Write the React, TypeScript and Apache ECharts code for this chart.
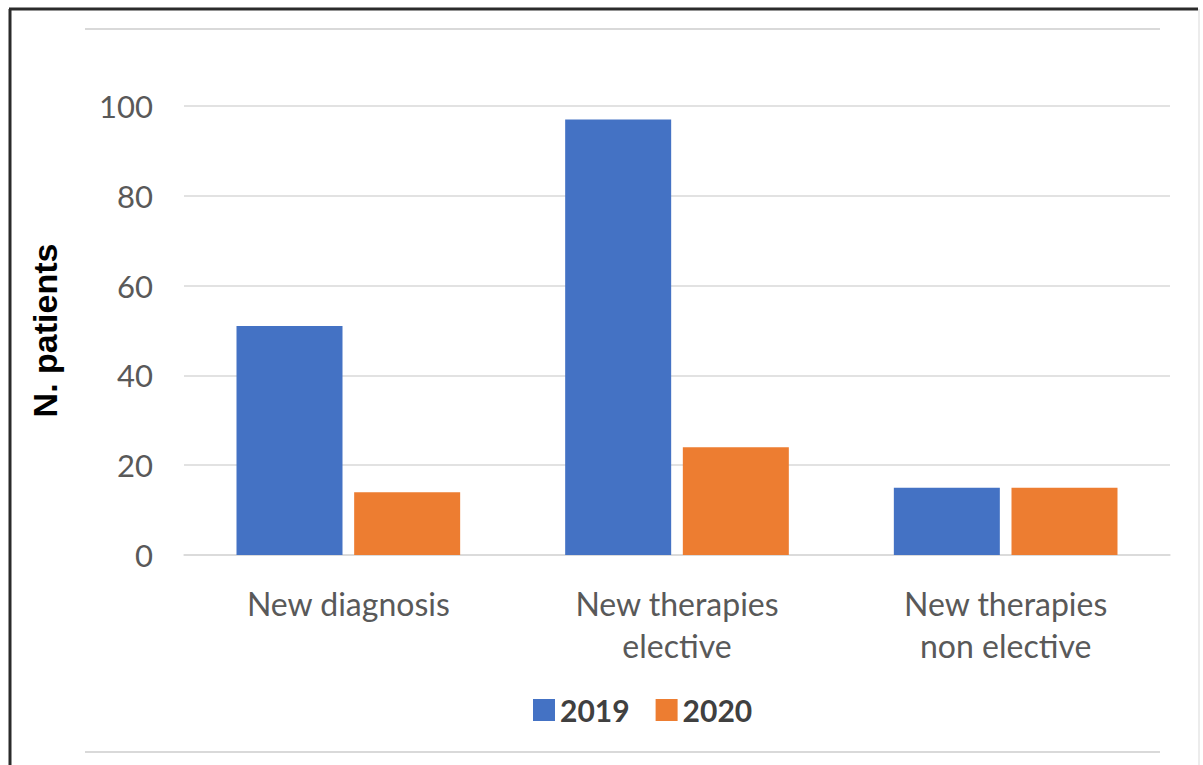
import React, { useEffect, useRef } from "react";
import * as echarts from "echarts";

const categories = ["New diagnosis", "New therapies\nelective", "New therapies\nnon elective"];
const seriesNames = ["2019", "2020"];
const values2019 = [51, 97, 15];
const values2020 = [14, 24, 15];
const yTicks = { min: 0, max: 100, interval: 20 };

export default function App() {
  const ref = useRef<HTMLDivElement>(null);
  useEffect(() => {
    if (!ref.current) return;
    const chart = echarts.init(ref.current, null, { renderer: "svg" });
    const font = "Lato, 'Open Sans', sans-serif";
    chart.setOption({
      animation: false,
      backgroundColor: "#ffffff",
      textStyle: { fontFamily: font },
      graphic: [
        { type: "line", shape: { x1: 10, y1: 9, x2: 10, y2: 765 }, style: { stroke: "#2b2b2b", lineWidth: 3 } },
        { type: "line", shape: { x1: 9, y1: 9, x2: 1198, y2: 9 }, style: { stroke: "#2b2b2b", lineWidth: 3 } },
        { type: "line", shape: { x1: 1199, y1: 9, x2: 1199, y2: 765 }, style: { stroke: "#e6e6e6", lineWidth: 1.5 } },
        { type: "line", shape: { x1: 85, y1: 29, x2: 1160, y2: 29 }, style: { stroke: "#d9d9d9", lineWidth: 2 } },
        { type: "line", shape: { x1: 85, y1: 752, x2: 1160, y2: 752 }, style: { stroke: "#d9d9d9", lineWidth: 2 } },
      ],
      legend: {
        data: seriesNames,
        top: 690,
        left: 528,
        itemWidth: 22,
        itemHeight: 22,
        itemGap: 26,
        icon: "rect",
        textStyle: { fontFamily: font, fontSize: 30, fontWeight: "bold", color: "#404040" },
      },
      grid: { left: 184, right: 33, top: 106, bottom: 210 },
      xAxis: {
        type: "category",
        data: categories,
        axisLine: { show: true, lineStyle: { color: "#d9d9d9", width: 1.5 } },
        axisTick: { show: false },
        axisLabel: { color: "#595959", fontSize: 32, fontFamily: font, margin: 27, lineHeight: 42, interval: 0 },
      },
      yAxis: {
        type: "value",
        min: yTicks.min,
        max: yTicks.max,
        interval: yTicks.interval,
        name: "N. patients",
        nameLocation: "middle",
        nameGap: 122,
        nameTextStyle: { fontFamily: "'Liberation Sans', Arial, sans-serif", fontSize: 34, fontWeight: "bold", color: "#000000" },
        axisLine: { show: false },
        axisTick: { show: false },
        axisLabel: { color: "#595959", fontSize: 31, fontFamily: font, margin: 31 },
        splitLine: { lineStyle: { color: "#d9d9d9", width: 1.5 } },
      },
      series: [
        { name: seriesNames[0], type: "bar", data: values2019, barWidth: 106, barGap: "11%", itemStyle: { color: "#4472C4" } },
        { name: seriesNames[1], type: "bar", data: values2020, barWidth: 106, barGap: "11%", itemStyle: { color: "#ED7D31" } },
      ],
    });
    return () => chart.dispose();
  }, []);
  return <div ref={ref} style={{ position: "fixed", left: 0, top: 0, width: 1203, height: 765 }} />;
}
